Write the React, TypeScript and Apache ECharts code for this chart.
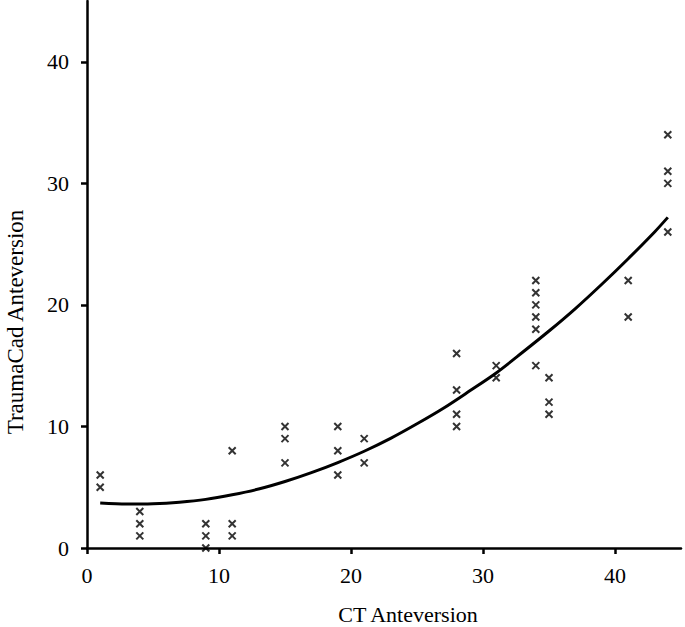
import React, { useEffect, useRef } from "react";
import * as echarts from "echarts";

const ctX = [1, 1, 4, 4, 4, 9, 9, 9, 11, 11, 11, 15, 15, 15, 19, 19, 19, 21, 21, 28, 28, 28, 28, 31, 31, 34, 34, 34, 34, 34, 34, 35, 35, 35, 41, 41, 44, 44, 44, 44];
const traumaY = [6, 5, 3, 2, 1, 2, 1, 0, 8, 2, 1, 10, 9, 7, 10, 8, 6, 9, 7, 16, 13, 11, 10, 15, 14, 22, 21, 20, 19, 18, 15, 14, 12, 11, 22, 19, 34, 31, 30, 26];

// trend curve
const curveX = [1, 3, 5, 7, 9, 11, 13, 15, 17, 19, 21, 23, 25, 27, 29, 31, 33, 35, 37, 39, 41, 43, 44];
const curveY = [3.7, 3.61, 3.64, 3.77, 4.0, 4.38, 4.85, 5.47, 6.2, 7.03, 7.96, 9.02, 10.22, 11.5, 12.93, 14.4, 16.1, 17.85, 19.7, 21.7, 23.8, 26.0, 27.2];

const xTicks = [0, 10, 20, 30, 40];
const yTicks = [0, 10, 20, 30, 40];
const xName = "CT Anteversion";
const yName = "TraumaCad Anteversion";

export default function App() {
  const ref = useRef<HTMLDivElement>(null);
  useEffect(() => {
    if (!ref.current) return;
    const chart = echarts.init(ref.current, null, { renderer: "svg" });
    const font = "Liberation Serif";
    chart.setOption({
      animation: false,
      backgroundColor: "#fff",
      grid: { left: 87, right: 4, top: 1, bottom: 79, containLabel: false },
      graphic: [
        {
          type: "text",
          x: 408,
          y: 614,
          style: {
            text: xName, fontFamily: font, fontSize: 22, fill: "#000",
            textAlign: "center", textVerticalAlign: "middle",
          },
        },
        {
          type: "text",
          x: 15,
          y: 322,
          rotation: Math.PI / 2,
          style: {
            text: yName, fontFamily: font, fontSize: 23, fill: "#000",
            textAlign: "center", textVerticalAlign: "middle",
          },
        },
      ],
      xAxis: {
        type: "value",
        min: 0,
        max: 45,
        interval: 10,
        axisLine: { show: true, lineStyle: { color: "#000", width: 2.5 } },
        axisTick: { show: true, inside: false, length: 6, lineStyle: { color: "#000", width: 2.5 } },
        axisLabel: {
          fontFamily: font, fontSize: 22, color: "#000", margin: 16,
          formatter: (v: number) => (xTicks.includes(v) ? String(v) : ""),
          showMaxLabel: false,
        },
        splitLine: { show: false },
      },
      yAxis: {
        type: "value",
        min: 0,
        max: 45,
        interval: 10,
        axisLine: { show: true, lineStyle: { color: "#000", width: 2.5 } },
        axisTick: { show: true, inside: false, length: 6, lineStyle: { color: "#000", width: 2.5 } },
        axisLabel: {
          fontFamily: font, fontSize: 22, color: "#000", margin: 18,
          formatter: (v: number) => (yTicks.includes(v) ? String(v) : ""),
          showMaxLabel: false,
        },
        splitLine: { show: false },
      },
      series: [
        {
          type: "line",
          data: curveX.map((x, i) => [x, curveY[i]]),
          smooth: 0.3,
          showSymbol: false,
          lineStyle: { color: "#000", width: 3 },
          z: 2,
        },
        {
          type: "scatter",
          data: ctX.map((x, i) => [x, traumaY[i]]),
          symbol: "path://M0,0L10,10M10,0L0,10",
          symbolSize: 7,
          itemStyle: { color: "none", borderColor: "#000", borderWidth: 2 },
          z: 3,
        },
      ],
    });
    return () => chart.dispose();
  }, []);
  return (
    <div
      ref={ref}
      style={{ position: "absolute", left: 0, top: 0, width: 685, height: 627 }}
    />
  );
}
